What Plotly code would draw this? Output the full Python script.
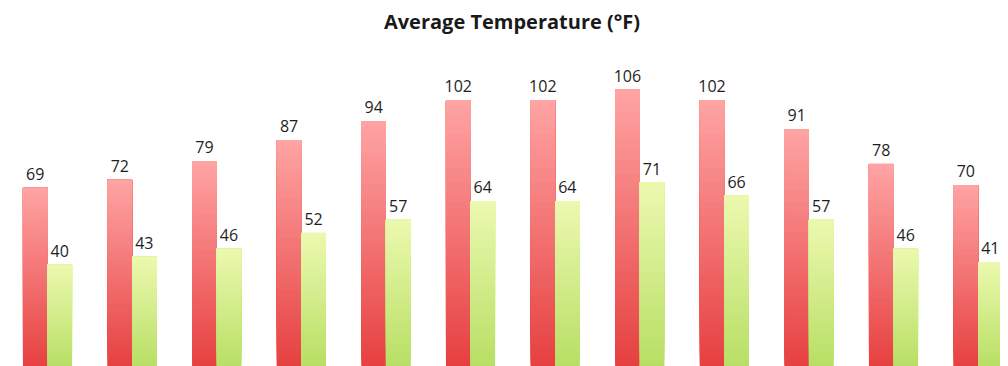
import plotly.graph_objects as go

months = ["Jan", "Feb", "Mar", "Apr", "May", "Jun", "Jul", "Aug", "Sep", "Oct", "Nov", "Dec"]
highs = [69, 72, 79, 87, 94, 102, 102, 106, 102, 91, 78, 70]
lows = [40, 43, 46, 52, 57, 64, 64, 71, 66, 57, 46, 41]
title_text = "Average Temperature (°F)"

N = 40
BW = 0.29

def lerp(c1, c2, t):
    return "rgb(%d,%d,%d)" % tuple(round(a + (b - a) * t) for a, b in zip(c1, c2))

red_top, red_bot = (255, 164, 164), (230, 62, 62)
grn_top, grn_bot = (236, 249, 176), (182, 222, 98)

x = list(range(len(months)))
fig = go.Figure()

for vals, top, bot, off in [(highs, red_top, red_bot, -BW), (lows, grn_top, grn_bot, 0.0)]:
    for k in range(N):
        color = lerp(bot, top, (k + 0.5) / N)
        is_top = k == N - 1
        fig.add_trace(go.Bar(
            x=x,
            y=[v * (N - k) / N for v in vals],
            base=[v * k / N for v in vals],
            width=BW,
            offset=off,
            marker=dict(color=color, line=dict(width=0)),
            text=[str(v) for v in vals] if is_top else None,
            textposition="outside" if is_top else "none",
            constraintext="none",
            textfont=dict(family="Open Sans, sans-serif", size=16, color="#1e1e1e"),
            cliponaxis=False,
            hoverinfo="skip",
            showlegend=False,
        ))

px0 = 39.5
pitch = 84.6
fig.update_layout(
    width=1008,
    height=366,
    barmode="overlay",
    paper_bgcolor="white",
    plot_bgcolor="white",
    margin=dict(l=0, r=0, t=0, b=0),
    title=dict(
        text="<b>" + title_text + "</b>",
        x=0.5, xanchor="center",
        y=0.962, yanchor="middle",
        font=dict(family="Open Sans, sans-serif", size=20, color="#1a1a1a"),
    ),
    xaxis=dict(
        range=[-px0 / pitch, (1008 - px0) / pitch],
        showticklabels=False, showgrid=False, zeroline=False, showline=False,
    ),
    yaxis=dict(
        range=[-3 / 2.655, (366 - 3) / 2.655],
        showticklabels=False, showgrid=False, zeroline=False, showline=False,
    ),
)

fig.write_html("out.html")
